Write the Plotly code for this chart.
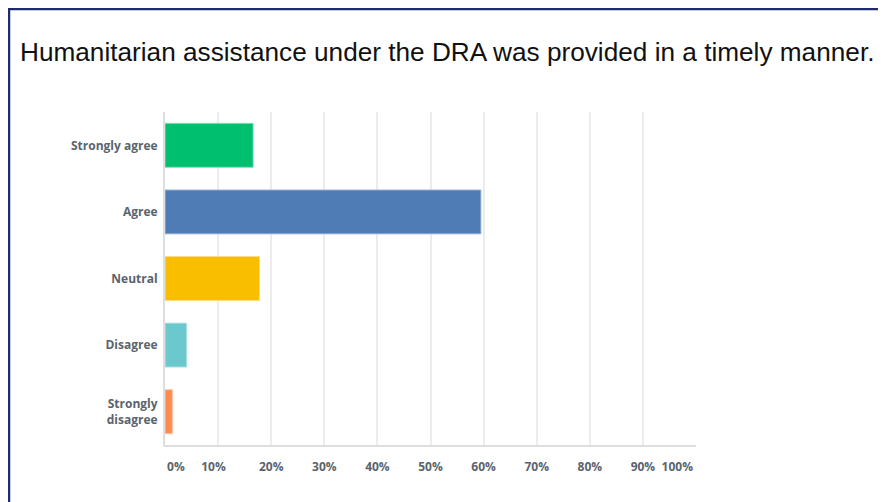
import plotly.graph_objects as go

categories = ["Strongly agree", "Agree", "Neutral", "Disagree", "Strongly<br>disagree"]
values = [16.6, 59.5, 17.8, 4.1, 1.4]
bar_colors = ["#00BF6F", "#507CB6", "#F9BE00", "#6BC8CD", "#FF8B4F"]
edge_colors = ["#7fe0b5", "#a5bddc", "#fcdd7f", "#b3e3e6", "#ffc5a7"]
tick_vals = [0, 10, 20, 30, 40, 50, 60, 70, 80, 90, 100]
tick_text = ["\u00a0" * 7 + "0%", "10%\u00a0\u00a0\u00a0", "20%", "30%", "40%", "50%", "60%",
             "70%", "80%", "90%", "100%" + "\u00a0" * 12]
title_text = "Humanitarian assistance under the DRA was provided in a timely manner."

# the page body adds an 8px offset; all pixel positions below are relative to the figure
OFF = 8
W, H = 886, 502
L, R, T, B = 165 - OFF, 696 - OFF, 112 - OFF, 445 - OFF
pw, ph = R - L, B - T

fig = go.Figure(go.Bar(
    x=values, y=categories, orientation="h",
    marker=dict(color=bar_colors, line=dict(color=edge_colors, width=1)),
    hoverinfo="x+y",
))

fig.update_layout(
    width=W, height=H,
    margin=dict(l=L, r=W - R, t=T, b=H - B, pad=0),
    paper_bgcolor="white", plot_bgcolor="white",
    bargap=0.34,
    showlegend=False,
    title=dict(text=title_text, x=(20 - OFF) / W, xanchor="left", y=1 - (52 - OFF) / H, yanchor="middle",
               xref="container", yref="container",
               font=dict(family="Liberation Sans, Arial", size=26.2, color="#111111")),
    font=dict(family="Open Sans", color="#5a646c"),
)
fig.update_xaxes(
    range=[0, 100], tickvals=tick_vals, ticktext=tick_text,
    showgrid=True, gridcolor="#ececec", gridwidth=1.5,
    showline=True, linecolor="#dedede", linewidth=2,
    zeroline=False, ticks="", ticklabelstandoff=10,
    tickfont=dict(family="Open Sans", size=12, color="#5a646c", weight="bold"),
    fixedrange=True,
)
fig.update_yaxes(
    categoryorder="array", categoryarray=categories, autorange="reversed",
    showline=True, linecolor="#dedede", linewidth=2, showgrid=False,
    zeroline=False, ticks="", ticklabelstandoff=3,
    tickfont=dict(family="Open Sans", size=12, color="#5a646c", weight="bold"),
    fixedrange=True,
)

# page frame (navy border on top and left)
bx = (9 - OFF - L) / pw
by = (B - (9 - OFF)) / ph
fig.add_shape(type="path", xref="paper", yref="paper",
              path=f"M {bx} {-(H - B + 10) / ph} L {bx} {by} L {(W + 10 - L) / pw} {by}",
              line=dict(color="#1c2c6e", width=2.5), layer="above")

fig.write_html("out.html")
